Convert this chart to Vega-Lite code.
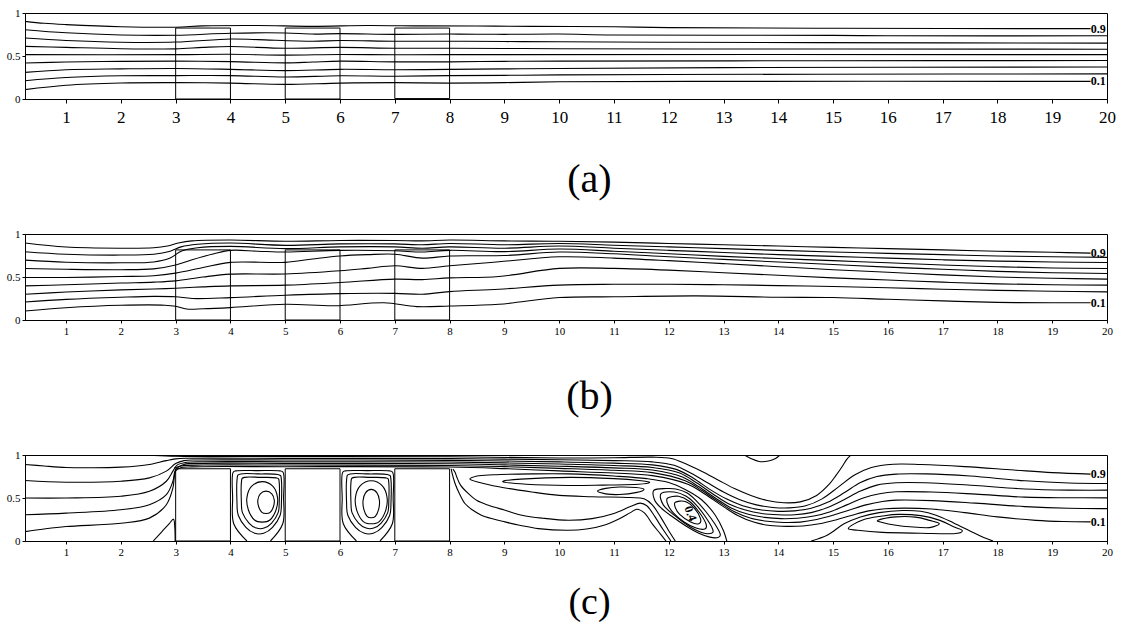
{
"$schema":"https://vega.github.io/schema/vega-lite/v6.json",
"background":"white",
"padding":{"left":5,"top":6,"right":5,"bottom":0},
"spacing":135,
"bounds":"flush",
"config":{"font":"Liberation Serif, Times New Roman, serif","axis":{"domainColor":"black","tickColor":"black","labelColor":"black","titleColor":"black","labelFont":"Liberation Serif, Times New Roman, serif","titleFont":"Liberation Serif, Times New Roman, serif","titleFontWeight":"normal","grid":false},"view":{"stroke":"black","strokeWidth":1}},
"datasets":{
"a":[
{"id":"A1","x":0.25,"y":0.903},{"id":"A1","x":0.6,"y":0.88},{"id":"A1","x":1,"y":0.865},{"id":"A1","x":2,"y":0.84},{"id":"A1","x":3,"y":0.835},{"id":"A1","x":3.5,"y":0.85},{"id":"A1","x":4.5,"y":0.855},{"id":"A1","x":5.5,"y":0.845},{"id":"A1","x":6.5,"y":0.855},{"id":"A1","x":7.5,"y":0.85},{"id":"A1","x":8.5,"y":0.848},{"id":"A1","x":9.5,"y":0.845},{"id":"A1","x":11,"y":0.84},{"id":"A1","x":12,"y":0.83},{"id":"A1","x":15,"y":0.822},{"id":"A1","x":19.7,"y":0.818},
{"id":"A2","x":0.25,"y":0.806},{"id":"A2","x":1,"y":0.77},{"id":"A2","x":2,"y":0.745},{"id":"A2","x":3,"y":0.742},{"id":"A2","x":4,"y":0.765},{"id":"A2","x":5,"y":0.768},{"id":"A2","x":5.5,"y":0.755},{"id":"A2","x":6,"y":0.76},{"id":"A2","x":7,"y":0.752},{"id":"A2","x":8,"y":0.755},{"id":"A2","x":9,"y":0.752},{"id":"A2","x":10,"y":0.755},{"id":"A2","x":11,"y":0.745},{"id":"A2","x":15,"y":0.74},{"id":"A2","x":16,"y":0.735},{"id":"A2","x":20,"y":0.735},
{"id":"A3","x":0.25,"y":0.709},{"id":"A3","x":1,"y":0.68},{"id":"A3","x":2,"y":0.66},{"id":"A3","x":3,"y":0.662},{"id":"A3","x":4,"y":0.698},{"id":"A3","x":4.5,"y":0.69},{"id":"A3","x":5.5,"y":0.672},{"id":"A3","x":6,"y":0.68},{"id":"A3","x":7,"y":0.672},{"id":"A3","x":8,"y":0.672},{"id":"A3","x":9,"y":0.668},{"id":"A3","x":10,"y":0.665},{"id":"A3","x":12,"y":0.66},{"id":"A3","x":14.7,"y":0.655},{"id":"A3","x":20,"y":0.65},
{"id":"A4","x":0.25,"y":0.612},{"id":"A4","x":1,"y":0.6},{"id":"A4","x":2,"y":0.585},{"id":"A4","x":3,"y":0.583},{"id":"A4","x":3.5,"y":0.6},{"id":"A4","x":4,"y":0.61},{"id":"A4","x":5,"y":0.59},{"id":"A4","x":6,"y":0.6},{"id":"A4","x":7,"y":0.59},{"id":"A4","x":8,"y":0.59},{"id":"A4","x":9,"y":0.588},{"id":"A4","x":10,"y":0.585},{"id":"A4","x":12.5,"y":0.582},{"id":"A4","x":18,"y":0.58},{"id":"A4","x":20,"y":0.578},
{"id":"A5","x":0.25,"y":0.516},{"id":"A5","x":3,"y":0.516},{"id":"A5","x":4,"y":0.52},{"id":"A5","x":5,"y":0.51},{"id":"A5","x":6,"y":0.518},{"id":"A5","x":7,"y":0.514},{"id":"A5","x":8,"y":0.516},{"id":"A5","x":20,"y":0.516},
{"id":"A6","x":0.25,"y":0.419},{"id":"A6","x":1,"y":0.43},{"id":"A6","x":2,"y":0.438},{"id":"A6","x":3,"y":0.44},{"id":"A6","x":4,"y":0.435},{"id":"A6","x":5,"y":0.42},{"id":"A6","x":5.5,"y":0.43},{"id":"A6","x":6,"y":0.44},{"id":"A6","x":7,"y":0.432},{"id":"A6","x":8,"y":0.432},{"id":"A6","x":9,"y":0.438},{"id":"A6","x":10,"y":0.44},{"id":"A6","x":14.8,"y":0.445},{"id":"A6","x":20,"y":0.447},
{"id":"A7","x":0.25,"y":0.31},{"id":"A7","x":1,"y":0.34},{"id":"A7","x":2,"y":0.35},{"id":"A7","x":3,"y":0.355},{"id":"A7","x":4,"y":0.345},{"id":"A7","x":5,"y":0.33},{"id":"A7","x":6,"y":0.345},{"id":"A7","x":7,"y":0.34},{"id":"A7","x":8,"y":0.345},{"id":"A7","x":9,"y":0.35},{"id":"A7","x":10,"y":0.355},{"id":"A7","x":13,"y":0.365},{"id":"A7","x":20,"y":0.372},
{"id":"A8","x":0.25,"y":0.213},{"id":"A8","x":1,"y":0.25},{"id":"A8","x":2,"y":0.27},{"id":"A8","x":3,"y":0.272},{"id":"A8","x":4,"y":0.272},{"id":"A8","x":5,"y":0.255},{"id":"A8","x":6,"y":0.27},{"id":"A8","x":7,"y":0.265},{"id":"A8","x":8,"y":0.272},{"id":"A8","x":9,"y":0.275},{"id":"A8","x":10,"y":0.28},{"id":"A8","x":12,"y":0.285},{"id":"A8","x":17.2,"y":0.29},{"id":"A8","x":20,"y":0.292},
{"id":"A9","x":0.25,"y":0.109},{"id":"A9","x":1,"y":0.16},{"id":"A9","x":2,"y":0.186},{"id":"A9","x":3,"y":0.19},{"id":"A9","x":4,"y":0.185},{"id":"A9","x":5,"y":0.17},{"id":"A9","x":6,"y":0.185},{"id":"A9","x":7,"y":0.19},{"id":"A9","x":8,"y":0.185},{"id":"A9","x":9,"y":0.19},{"id":"A9","x":10,"y":0.2},{"id":"A9","x":12.4,"y":0.205},{"id":"A9","x":19.7,"y":0.205}
],
"b":[
{"id":"B1","x":0.25,"y":0.895},{"id":"B1","x":1,"y":0.848},{"id":"B1","x":2,"y":0.835},{"id":"B1","x":2.6,"y":0.84},{"id":"B1","x":2.85,"y":0.86},{"id":"B1","x":3.05,"y":0.895},{"id":"B1","x":3.3,"y":0.92},{"id":"B1","x":4,"y":0.93},{"id":"B1","x":5,"y":0.915},{"id":"B1","x":6,"y":0.925},{"id":"B1","x":7,"y":0.925},{"id":"B1","x":7.5,"y":0.92},{"id":"B1","x":8,"y":0.93},{"id":"B1","x":9,"y":0.92},{"id":"B1","x":10,"y":0.915},{"id":"B1","x":11,"y":0.905},{"id":"B1","x":12,"y":0.89},{"id":"B1","x":13,"y":0.875},{"id":"B1","x":14,"y":0.86},{"id":"B1","x":15,"y":0.845},{"id":"B1","x":16,"y":0.83},{"id":"B1","x":17,"y":0.815},{"id":"B1","x":18,"y":0.8},{"id":"B1","x":19,"y":0.787},{"id":"B1","x":19.7,"y":0.778},
{"id":"B2","x":0.25,"y":0.794},{"id":"B2","x":1,"y":0.765},{"id":"B2","x":2,"y":0.755},{"id":"B2","x":2.6,"y":0.765},{"id":"B2","x":2.9,"y":0.8},{"id":"B2","x":3.1,"y":0.85},{"id":"B2","x":3.4,"y":0.88},{"id":"B2","x":4,"y":0.895},{"id":"B2","x":5,"y":0.868},{"id":"B2","x":6,"y":0.885},{"id":"B2","x":7,"y":0.885},{"id":"B2","x":7.5,"y":0.875},{"id":"B2","x":8,"y":0.89},{"id":"B2","x":9,"y":0.875},{"id":"B2","x":10,"y":0.89},{"id":"B2","x":11,"y":0.87},{"id":"B2","x":12,"y":0.85},{"id":"B2","x":13,"y":0.83},{"id":"B2","x":14,"y":0.81},{"id":"B2","x":15,"y":0.79},{"id":"B2","x":16,"y":0.775},{"id":"B2","x":17,"y":0.76},{"id":"B2","x":18,"y":0.745},{"id":"B2","x":19,"y":0.735},{"id":"B2","x":20,"y":0.728},
{"id":"B3","x":0.25,"y":0.696},{"id":"B3","x":1,"y":0.672},{"id":"B3","x":2,"y":0.665},{"id":"B3","x":2.6,"y":0.675},{"id":"B3","x":2.9,"y":0.72},{"id":"B3","x":3.1,"y":0.8},{"id":"B3","x":3.4,"y":0.84},{"id":"B3","x":4,"y":0.856},{"id":"B3","x":5,"y":0.83},{"id":"B3","x":6,"y":0.85},{"id":"B3","x":7,"y":0.85},{"id":"B3","x":7.5,"y":0.835},{"id":"B3","x":8,"y":0.85},{"id":"B3","x":9,"y":0.835},{"id":"B3","x":10,"y":0.86},{"id":"B3","x":11,"y":0.835},{"id":"B3","x":12,"y":0.81},{"id":"B3","x":13,"y":0.785},{"id":"B3","x":14,"y":0.76},{"id":"B3","x":15,"y":0.74},{"id":"B3","x":16,"y":0.72},{"id":"B3","x":17,"y":0.7},{"id":"B3","x":18,"y":0.685},{"id":"B3","x":19,"y":0.675},{"id":"B3","x":20,"y":0.669},
{"id":"B4","x":0.25,"y":0.599},{"id":"B4","x":1,"y":0.59},{"id":"B4","x":2,"y":0.585},{"id":"B4","x":2.6,"y":0.595},{"id":"B4","x":3,"y":0.64},{"id":"B4","x":3.3,"y":0.7},{"id":"B4","x":3.7,"y":0.77},{"id":"B4","x":4,"y":0.81},{"id":"B4","x":4.5,"y":0.8},{"id":"B4","x":5,"y":0.79},{"id":"B4","x":6,"y":0.81},{"id":"B4","x":7,"y":0.805},{"id":"B4","x":7.5,"y":0.79},{"id":"B4","x":8,"y":0.81},{"id":"B4","x":9,"y":0.795},{"id":"B4","x":10,"y":0.825},{"id":"B4","x":11,"y":0.8},{"id":"B4","x":12,"y":0.77},{"id":"B4","x":13,"y":0.74},{"id":"B4","x":14,"y":0.715},{"id":"B4","x":15,"y":0.69},{"id":"B4","x":16,"y":0.665},{"id":"B4","x":17,"y":0.64},{"id":"B4","x":18,"y":0.62},{"id":"B4","x":19,"y":0.605},{"id":"B4","x":20,"y":0.599},
{"id":"B5","x":0.25,"y":0.494},{"id":"B5","x":1,"y":0.495},{"id":"B5","x":2,"y":0.505},{"id":"B5","x":2.6,"y":0.515},{"id":"B5","x":3,"y":0.545},{"id":"B5","x":3.5,"y":0.61},{"id":"B5","x":4,"y":0.67},{"id":"B5","x":5,"y":0.67},{"id":"B5","x":5.5,"y":0.71},{"id":"B5","x":6,"y":0.745},{"id":"B5","x":6.5,"y":0.76},{"id":"B5","x":7,"y":0.765},{"id":"B5","x":7.5,"y":0.72},{"id":"B5","x":8,"y":0.745},{"id":"B5","x":9,"y":0.75},{"id":"B5","x":10,"y":0.79},{"id":"B5","x":11,"y":0.77},{"id":"B5","x":12,"y":0.735},{"id":"B5","x":13,"y":0.705},{"id":"B5","x":14,"y":0.675},{"id":"B5","x":15,"y":0.645},{"id":"B5","x":16,"y":0.615},{"id":"B5","x":17,"y":0.59},{"id":"B5","x":18,"y":0.565},{"id":"B5","x":19,"y":0.55},{"id":"B5","x":20,"y":0.541},
{"id":"B6","x":0.25,"y":0.397},{"id":"B6","x":1,"y":0.41},{"id":"B6","x":2,"y":0.43},{"id":"B6","x":2.6,"y":0.44},{"id":"B6","x":3,"y":0.455},{"id":"B6","x":3.5,"y":0.5},{"id":"B6","x":4,"y":0.533},{"id":"B6","x":5,"y":0.535},{"id":"B6","x":6,"y":0.572},{"id":"B6","x":6.5,"y":0.6},{"id":"B6","x":7,"y":0.63},{"id":"B6","x":7.5,"y":0.6},{"id":"B6","x":8,"y":0.63},{"id":"B6","x":8.9,"y":0.677},{"id":"B6","x":10,"y":0.735},{"id":"B6","x":11,"y":0.72},{"id":"B6","x":12,"y":0.69},{"id":"B6","x":13,"y":0.655},{"id":"B6","x":14,"y":0.62},{"id":"B6","x":15,"y":0.585},{"id":"B6","x":16,"y":0.555},{"id":"B6","x":17,"y":0.525},{"id":"B6","x":18,"y":0.5},{"id":"B6","x":19,"y":0.485},{"id":"B6","x":20,"y":0.475},
{"id":"B7","x":0.25,"y":0.3},{"id":"B7","x":1,"y":0.325},{"id":"B7","x":2,"y":0.35},{"id":"B7","x":2.6,"y":0.36},{"id":"B7","x":3,"y":0.37},{"id":"B7","x":3.5,"y":0.385},{"id":"B7","x":4,"y":0.397},{"id":"B7","x":5,"y":0.405},{"id":"B7","x":6,"y":0.436},{"id":"B7","x":7,"y":0.475},{"id":"B7","x":7.5,"y":0.47},{"id":"B7","x":8,"y":0.49},{"id":"B7","x":8.9,"y":0.506},{"id":"B7","x":10,"y":0.6},{"id":"B7","x":11,"y":0.6},{"id":"B7","x":12,"y":0.58},{"id":"B7","x":13,"y":0.55},{"id":"B7","x":14,"y":0.52},{"id":"B7","x":15,"y":0.49},{"id":"B7","x":16,"y":0.465},{"id":"B7","x":17,"y":0.44},{"id":"B7","x":18,"y":0.42},{"id":"B7","x":19,"y":0.41},{"id":"B7","x":20,"y":0.405},
{"id":"B8","x":0.25,"y":0.21},{"id":"B8","x":1,"y":0.24},{"id":"B8","x":2,"y":0.265},{"id":"B8","x":2.6,"y":0.275},{"id":"B8","x":3,"y":0.27},{"id":"B8","x":3.3,"y":0.25},{"id":"B8","x":4,"y":0.26},{"id":"B8","x":5,"y":0.288},{"id":"B8","x":6,"y":0.307},{"id":"B8","x":7,"y":0.31},{"id":"B8","x":7.5,"y":0.3},{"id":"B8","x":8,"y":0.33},{"id":"B8","x":8.9,"y":0.358},{"id":"B8","x":10,"y":0.405},{"id":"B8","x":11,"y":0.415},{"id":"B8","x":12,"y":0.416},{"id":"B8","x":13,"y":0.41},{"id":"B8","x":14,"y":0.4},{"id":"B8","x":15,"y":0.389},{"id":"B8","x":16,"y":0.375},{"id":"B8","x":17,"y":0.358},{"id":"B8","x":18,"y":0.345},{"id":"B8","x":19,"y":0.335},{"id":"B8","x":20,"y":0.327},
{"id":"B9","x":0.25,"y":0.105},{"id":"B9","x":1,"y":0.143},{"id":"B9","x":2,"y":0.171},{"id":"B9","x":2.8,"y":0.172},{"id":"B9","x":3,"y":0.16},{"id":"B9","x":3.2,"y":0.128},{"id":"B9","x":3.5,"y":0.13},{"id":"B9","x":4,"y":0.144},{"id":"B9","x":5,"y":0.183},{"id":"B9","x":5.9,"y":0.165},{"id":"B9","x":6.8,"y":0.2},{"id":"B9","x":7.4,"y":0.156},{"id":"B9","x":8,"y":0.163},{"id":"B9","x":8.9,"y":0.183},{"id":"B9","x":10,"y":0.261},{"id":"B9","x":11,"y":0.27},{"id":"B9","x":12.5,"y":0.28},{"id":"B9","x":14,"y":0.265},{"id":"B9","x":15,"y":0.261},{"id":"B9","x":16,"y":0.241},{"id":"B9","x":17,"y":0.222},{"id":"B9","x":18,"y":0.205},{"id":"B9","x":19,"y":0.2},{"id":"B9","x":19.7,"y":0.2}
],
"c":[
{"id":"U1","x":2.6,"y":0.995},{"id":"U1","x":3,"y":0.985},{"id":"U1","x":3.5,"y":0.982},{"id":"U1","x":8,"y":0.98},{"id":"U1","x":10,"y":0.965},{"id":"U1","x":11,"y":0.968},{"id":"U1","x":11.7,"y":0.975},{"id":"U1","x":12.05,"y":0.96},{"id":"U1","x":12.3,"y":0.9},{"id":"U1","x":12.6,"y":0.81},{"id":"U1","x":12.9,"y":0.71},{"id":"U1","x":13.2,"y":0.61},{"id":"U1","x":13.5,"y":0.53},{"id":"U1","x":13.8,"y":0.47},{"id":"U1","x":14.1,"y":0.445},{"id":"U1","x":14.4,"y":0.455},{"id":"U1","x":14.7,"y":0.53},{"id":"U1","x":14.93,"y":0.66},{"id":"U1","x":15.05,"y":0.76},{"id":"U1","x":15.17,"y":0.87},{"id":"U1","x":15.25,"y":0.95},{"id":"U1","x":15.32,"y":0.995},
{"id":"C1","x":0.25,"y":0.89},{"id":"C1","x":0.6,"y":0.872},{"id":"C1","x":1,"y":0.855},{"id":"C1","x":1.5,"y":0.852},{"id":"C1","x":2,"y":0.859},{"id":"C1","x":2.3,"y":0.872},{"id":"C1","x":2.52,"y":0.89},{"id":"C1","x":2.83,"y":0.935},{"id":"C1","x":3,"y":0.955},{"id":"C1","x":3.2,"y":0.962},{"id":"C1","x":5,"y":0.961},{"id":"C1","x":8,"y":0.958},{"id":"C1","x":9,"y":0.952},{"id":"C1","x":10,"y":0.945},{"id":"C1","x":11,"y":0.935},{"id":"C1","x":11.7,"y":0.92},{"id":"C1","x":12.1,"y":0.88},{"id":"C1","x":12.4,"y":0.79},{"id":"C1","x":12.7,"y":0.68},{"id":"C1","x":13,"y":0.57},{"id":"C1","x":13.3,"y":0.48},{"id":"C1","x":13.6,"y":0.42},{"id":"C1","x":13.9,"y":0.39},{"id":"C1","x":14.2,"y":0.385},{"id":"C1","x":14.5,"y":0.41},{"id":"C1","x":14.8,"y":0.49},{"id":"C1","x":15.1,"y":0.63},{"id":"C1","x":15.4,"y":0.77},{"id":"C1","x":15.7,"y":0.855},{"id":"C1","x":16.1,"y":0.893},{"id":"C1","x":16.6,"y":0.89},{"id":"C1","x":17.4,"y":0.865},{"id":"C1","x":18.3,"y":0.825},{"id":"C1","x":19,"y":0.795},{"id":"C1","x":19.7,"y":0.778},
{"id":"C2","x":0.25,"y":0.703},{"id":"C2","x":1,"y":0.684},{"id":"C2","x":2,"y":0.695},{"id":"C2","x":2.52,"y":0.734},{"id":"C2","x":2.83,"y":0.8125},{"id":"C2","x":3,"y":0.9},{"id":"C2","x":3.15,"y":0.935},{"id":"C2","x":3.4,"y":0.942},{"id":"C2","x":5,"y":0.942},{"id":"C2","x":8,"y":0.938},{"id":"C2","x":9,"y":0.93},{"id":"C2","x":10,"y":0.92},{"id":"C2","x":11,"y":0.905},{"id":"C2","x":11.7,"y":0.885},{"id":"C2","x":12.15,"y":0.83},{"id":"C2","x":12.45,"y":0.73},{"id":"C2","x":12.75,"y":0.6},{"id":"C2","x":13.05,"y":0.49},{"id":"C2","x":13.35,"y":0.41},{"id":"C2","x":13.7,"y":0.36},{"id":"C2","x":14,"y":0.345},{"id":"C2","x":14.3,"y":0.35},{"id":"C2","x":14.6,"y":0.38},{"id":"C2","x":14.9,"y":0.45},{"id":"C2","x":15.2,"y":0.56},{"id":"C2","x":15.5,"y":0.68},{"id":"C2","x":15.8,"y":0.75},{"id":"C2","x":16.15,"y":0.778},{"id":"C2","x":16.7,"y":0.78},{"id":"C2","x":17.5,"y":0.755},{"id":"C2","x":18.5,"y":0.7},{"id":"C2","x":19.3,"y":0.675},{"id":"C2","x":20,"y":0.669},
{"id":"C3","x":0.25,"y":0.5},{"id":"C3","x":1,"y":0.5},{"id":"C3","x":2,"y":0.52},{"id":"C3","x":2.52,"y":0.578},{"id":"C3","x":2.83,"y":0.695},{"id":"C3","x":2.95,"y":0.8125},{"id":"C3","x":3.02,"y":0.88},{"id":"C3","x":3.2,"y":0.915},{"id":"C3","x":3.5,"y":0.922},{"id":"C3","x":5,"y":0.922},{"id":"C3","x":8,"y":0.918},{"id":"C3","x":9,"y":0.908},{"id":"C3","x":10,"y":0.895},{"id":"C3","x":11,"y":0.878},{"id":"C3","x":11.7,"y":0.855},{"id":"C3","x":12.2,"y":0.79},{"id":"C3","x":12.5,"y":0.68},{"id":"C3","x":12.8,"y":0.55},{"id":"C3","x":13.1,"y":0.43},{"id":"C3","x":13.4,"y":0.36},{"id":"C3","x":13.7,"y":0.32},{"id":"C3","x":14,"y":0.305},{"id":"C3","x":14.3,"y":0.305},{"id":"C3","x":14.6,"y":0.33},{"id":"C3","x":14.9,"y":0.39},{"id":"C3","x":15.2,"y":0.48},{"id":"C3","x":15.5,"y":0.58},{"id":"C3","x":15.8,"y":0.65},{"id":"C3","x":16.15,"y":0.677},{"id":"C3","x":16.8,"y":0.675},{"id":"C3","x":17.6,"y":0.645},{"id":"C3","x":18.5,"y":0.605},{"id":"C3","x":19.3,"y":0.592},{"id":"C3","x":20,"y":0.591},
{"id":"C4","x":0.25,"y":0.305},{"id":"C4","x":1,"y":0.324},{"id":"C4","x":2,"y":0.363},{"id":"C4","x":2.52,"y":0.422},{"id":"C4","x":2.83,"y":0.539},{"id":"C4","x":2.95,"y":0.695},{"id":"C4","x":3,"y":0.83},{"id":"C4","x":3.15,"y":0.89},{"id":"C4","x":3.5,"y":0.903},{"id":"C4","x":5,"y":0.903},{"id":"C4","x":8,"y":0.898},{"id":"C4","x":9,"y":0.885},{"id":"C4","x":10,"y":0.87},{"id":"C4","x":11,"y":0.85},{"id":"C4","x":11.7,"y":0.825},{"id":"C4","x":12.25,"y":0.745},{"id":"C4","x":12.55,"y":0.63},{"id":"C4","x":12.85,"y":0.5},{"id":"C4","x":13.15,"y":0.38},{"id":"C4","x":13.45,"y":0.31},{"id":"C4","x":13.75,"y":0.275},{"id":"C4","x":14.05,"y":0.26},{"id":"C4","x":14.35,"y":0.265},{"id":"C4","x":14.65,"y":0.29},{"id":"C4","x":14.95,"y":0.34},{"id":"C4","x":15.25,"y":0.42},{"id":"C4","x":15.55,"y":0.5},{"id":"C4","x":15.85,"y":0.55},{"id":"C4","x":16.15,"y":0.572},{"id":"C4","x":16.8,"y":0.57},{"id":"C4","x":17.6,"y":0.545},{"id":"C4","x":18.5,"y":0.51},{"id":"C4","x":19.3,"y":0.503},{"id":"C4","x":20,"y":0.502},
{"id":"X","x":2.97,"y":0.845},{"id":"X","x":3.1,"y":0.872},{"id":"X","x":3.5,"y":0.883},{"id":"X","x":5,"y":0.883},{"id":"X","x":8,"y":0.878},{"id":"X","x":9,"y":0.865},{"id":"X","x":10,"y":0.845},{"id":"X","x":11,"y":0.822},{"id":"X","x":11.7,"y":0.795},{"id":"X","x":12.3,"y":0.7},{"id":"X","x":12.6,"y":0.59},{"id":"X","x":12.9,"y":0.46},{"id":"X","x":13.2,"y":0.34},{"id":"X","x":13.5,"y":0.265},{"id":"X","x":13.8,"y":0.23},{"id":"X","x":14.1,"y":0.215},{"id":"X","x":14.4,"y":0.22},{"id":"X","x":14.7,"y":0.25},{"id":"X","x":15,"y":0.3},{"id":"X","x":15.3,"y":0.36},{"id":"X","x":15.6,"y":0.42},{"id":"X","x":15.9,"y":0.46},{"id":"X","x":16.15,"y":0.475},{"id":"X","x":16.8,"y":0.47},{"id":"X","x":17.6,"y":0.44},{"id":"X","x":18.5,"y":0.4},{"id":"X","x":19.3,"y":0.38},{"id":"X","x":20,"y":0.377},
{"id":"C5","x":0.25,"y":0.109},{"id":"C5","x":0.6,"y":0.14},{"id":"C5","x":1,"y":0.168},{"id":"C5","x":2,"y":0.207},{"id":"C5","x":2.52,"y":0.266},{"id":"C5","x":2.83,"y":0.422},{"id":"C5","x":2.95,"y":0.617},{"id":"C5","x":3,"y":0.813},{"id":"C5","x":3.08,"y":0.85},{"id":"C5","x":3.3,"y":0.862},{"id":"C5","x":5,"y":0.864},{"id":"C5","x":8,"y":0.86},{"id":"C5","x":9,"y":0.842},{"id":"C5","x":10,"y":0.815},{"id":"C5","x":11,"y":0.79},{"id":"C5","x":11.7,"y":0.76},{"id":"C5","x":12.35,"y":0.66},{"id":"C5","x":12.65,"y":0.55},{"id":"C5","x":12.95,"y":0.42},{"id":"C5","x":13.25,"y":0.3},{"id":"C5","x":13.55,"y":0.22},{"id":"C5","x":13.85,"y":0.18},{"id":"C5","x":14.15,"y":0.17},{"id":"C5","x":14.45,"y":0.175},{"id":"C5","x":14.75,"y":0.2},{"id":"C5","x":15.05,"y":0.245},{"id":"C5","x":15.35,"y":0.3},{"id":"C5","x":15.65,"y":0.35},{"id":"C5","x":15.95,"y":0.375},{"id":"C5","x":16.3,"y":0.382},{"id":"C5","x":16.8,"y":0.372},{"id":"C5","x":17.4,"y":0.33},{"id":"C5","x":18,"y":0.28},{"id":"C5","x":18.7,"y":0.24},{"id":"C5","x":19.2,"y":0.226},{"id":"C5","x":19.7,"y":0.222},
{"id":"F","x":2.59,"y":0},{"id":"F","x":2.75,"y":0.11},{"id":"F","x":2.88,"y":0.2},{"id":"F","x":2.96,"y":0.254},{"id":"F","x":2.985,"y":0.15},{"id":"F","x":2.99,"y":0},
{"id":"K1a","x":4.3,"y":0},{"id":"K1a","x":4.06,"y":0.2},{"id":"K1a","x":4.04,"y":0.5},{"id":"K1a","x":4.05,"y":0.8},{"id":"K1a","x":4.1,"y":0.815},{"id":"K1a","x":4.5,"y":0.818},{"id":"K1a","x":4.9,"y":0.815},{"id":"K1a","x":4.96,"y":0.8},{"id":"K1a","x":4.97,"y":0.5},{"id":"K1a","x":4.955,"y":0.2},{"id":"K1a","x":4.73,"y":0},
{"id":"K1b","x":6.3,"y":0},{"id":"K1b","x":6.06,"y":0.2},{"id":"K1b","x":6.04,"y":0.5},{"id":"K1b","x":6.05,"y":0.8},{"id":"K1b","x":6.1,"y":0.815},{"id":"K1b","x":6.5,"y":0.818},{"id":"K1b","x":6.9,"y":0.815},{"id":"K1b","x":6.96,"y":0.8},{"id":"K1b","x":6.97,"y":0.5},{"id":"K1b","x":6.955,"y":0.2},{"id":"K1b","x":6.73,"y":0},
{"id":"R2","x":8.06,"y":0.835},{"id":"R2","x":8.1,"y":0.8},{"id":"R2","x":8.13,"y":0.747},{"id":"R2","x":8.2,"y":0.65},{"id":"R2","x":8.34,"y":0.553},{"id":"R2","x":8.5,"y":0.47},{"id":"R2","x":8.71,"y":0.416},{"id":"R2","x":9,"y":0.36},{"id":"R2","x":9.32,"y":0.3},{"id":"R2","x":9.7,"y":0.265},{"id":"R2","x":10.17,"y":0.241},{"id":"R2","x":10.6,"y":0.26},{"id":"R2","x":11,"y":0.32},{"id":"R2","x":11.3,"y":0.4},{"id":"R2","x":11.48,"y":0.44},{"id":"R2","x":11.6,"y":0.41},{"id":"R2","x":11.75,"y":0.28},{"id":"R2","x":11.9,"y":0.13},{"id":"R2","x":12.04,"y":0},
{"id":"R3","x":8.03,"y":0.84},{"id":"R3","x":8.04,"y":0.805},{"id":"R3","x":8.1,"y":0.669},{"id":"R3","x":8.18,"y":0.55},{"id":"R3","x":8.28,"y":0.436},{"id":"R3","x":8.42,"y":0.36},{"id":"R3","x":8.58,"y":0.3},{"id":"R3","x":8.8,"y":0.255},{"id":"R3","x":9.01,"y":0.222},{"id":"R3","x":9.3,"y":0.18},{"id":"R3","x":9.62,"y":0.144},{"id":"R3","x":10.17,"y":0.125},{"id":"R3","x":10.5,"y":0.14},{"id":"R3","x":10.8,"y":0.18},{"id":"R3","x":11.1,"y":0.26},{"id":"R3","x":11.3,"y":0.33},{"id":"R3","x":11.42,"y":0.37},{"id":"R3","x":11.55,"y":0.33},{"id":"R3","x":11.7,"y":0.2},{"id":"R3","x":11.85,"y":0.08},{"id":"R3","x":11.95,"y":0},
{"id":"R4","x":12.12,"y":0},{"id":"R4","x":12,"y":0.12},{"id":"R4","x":11.85,"y":0.28},{"id":"R4","x":11.7,"y":0.42},{"id":"R4","x":11.55,"y":0.49},{"id":"R4","x":11.3,"y":0.505},{"id":"R4","x":10.6,"y":0.515},{"id":"R4","x":10,"y":0.53},{"id":"R4","x":9.5,"y":0.57},{"id":"R4","x":8.9,"y":0.63},{"id":"R4","x":8.55,"y":0.68},{"id":"R4","x":8.37,"y":0.72},{"id":"R4","x":8.5,"y":0.755},{"id":"R4","x":8.8,"y":0.77},{"id":"R4","x":9.5,"y":0.78},{"id":"R4","x":10.17,"y":0.78},{"id":"R4","x":11,"y":0.755},{"id":"R4","x":11.6,"y":0.725},{"id":"R4","x":12,"y":0.68},{"id":"R4","x":12.3,"y":0.6},{"id":"R4","x":12.6,"y":0.48},{"id":"R4","x":12.85,"y":0.3},{"id":"R4","x":13,"y":0.12},{"id":"R4","x":13.06,"y":0},
{"id":"ARC","x":13.38,"y":1},{"id":"ARC","x":13.5,"y":0.96},{"id":"ARC","x":13.65,"y":0.925},{"id":"ARC","x":13.82,"y":0.93},{"id":"ARC","x":13.95,"y":0.96},{"id":"ARC","x":14.03,"y":1},
{"id":"O1","x":14.6,"y":0},{"id":"O1","x":14.9,"y":0.07},{"id":"O1","x":15.2,"y":0.2},{"id":"O1","x":15.5,"y":0.28},{"id":"O1","x":15.84,"y":0.33},{"id":"O1","x":16.27,"y":0.355},{"id":"O1","x":16.6,"y":0.345},{"id":"O1","x":16.88,"y":0.3},{"id":"O1","x":17.2,"y":0.21},{"id":"O1","x":17.49,"y":0.12},{"id":"O1","x":17.75,"y":0.04},{"id":"O1","x":17.92,"y":0}
],
"cl":[
{"id":"K2a","x":4.185,"y":0.78},{"id":"K2a","x":4.525,"y":0.78},{"id":"K2a","x":4.865,"y":0.773},{"id":"K2a","x":4.93,"y":0.711},{"id":"K2a","x":4.93,"y":0.435},{"id":"K2a","x":4.906,"y":0.297},{"id":"K2a","x":4.768,"y":0.159},{"id":"K2a","x":4.606,"y":0.09},{"id":"K2a","x":4.444,"y":0.09},{"id":"K2a","x":4.282,"y":0.159},{"id":"K2a","x":4.144,"y":0.297},{"id":"K2a","x":4.12,"y":0.435},{"id":"K2a","x":4.12,"y":0.711},
{"id":"K3a","x":4.255,"y":0.74},{"id":"K3a","x":4.545,"y":0.74},{"id":"K3a","x":4.835,"y":0.734},{"id":"K3a","x":4.89,"y":0.681},{"id":"K3a","x":4.89,"y":0.445},{"id":"K3a","x":4.869,"y":0.327},{"id":"K3a","x":4.752,"y":0.209},{"id":"K3a","x":4.614,"y":0.15},{"id":"K3a","x":4.476,"y":0.15},{"id":"K3a","x":4.338,"y":0.209},{"id":"K3a","x":4.221,"y":0.327},{"id":"K3a","x":4.2,"y":0.445},{"id":"K3a","x":4.2,"y":0.681},
{"id":"K4a","x":4.58,"y":0.69},{"id":"K4a","x":4.776,"y":0.634},{"id":"K4a","x":4.86,"y":0.502},{"id":"K4a","x":4.832,"y":0.361},{"id":"K4a","x":4.72,"y":0.244},{"id":"K4a","x":4.58,"y":0.22},{"id":"K4a","x":4.44,"y":0.244},{"id":"K4a","x":4.328,"y":0.361},{"id":"K4a","x":4.3,"y":0.502},{"id":"K4a","x":4.384,"y":0.634},
{"id":"K5a","x":4.65,"y":0.58},{"id":"K5a","x":4.755,"y":0.549},{"id":"K5a","x":4.8,"y":0.476},{"id":"K5a","x":4.785,"y":0.398},{"id":"K5a","x":4.725,"y":0.333},{"id":"K5a","x":4.65,"y":0.32},{"id":"K5a","x":4.575,"y":0.333},{"id":"K5a","x":4.515,"y":0.398},{"id":"K5a","x":4.5,"y":0.476},{"id":"K5a","x":4.545,"y":0.549},
{"id":"K2b","x":6.185,"y":0.78},{"id":"K2b","x":6.525,"y":0.78},{"id":"K2b","x":6.865,"y":0.773},{"id":"K2b","x":6.93,"y":0.711},{"id":"K2b","x":6.93,"y":0.435},{"id":"K2b","x":6.906,"y":0.297},{"id":"K2b","x":6.768,"y":0.159},{"id":"K2b","x":6.606,"y":0.09},{"id":"K2b","x":6.444,"y":0.09},{"id":"K2b","x":6.282,"y":0.159},{"id":"K2b","x":6.144,"y":0.297},{"id":"K2b","x":6.12,"y":0.435},{"id":"K2b","x":6.12,"y":0.711},
{"id":"K3b","x":6.255,"y":0.74},{"id":"K3b","x":6.545,"y":0.74},{"id":"K3b","x":6.835,"y":0.734},{"id":"K3b","x":6.89,"y":0.681},{"id":"K3b","x":6.89,"y":0.445},{"id":"K3b","x":6.869,"y":0.327},{"id":"K3b","x":6.752,"y":0.209},{"id":"K3b","x":6.614,"y":0.15},{"id":"K3b","x":6.476,"y":0.15},{"id":"K3b","x":6.338,"y":0.209},{"id":"K3b","x":6.221,"y":0.327},{"id":"K3b","x":6.2,"y":0.445},{"id":"K3b","x":6.2,"y":0.681},
{"id":"K4b","x":6.57,"y":0.7},{"id":"K4b","x":6.773,"y":0.64},{"id":"K4b","x":6.86,"y":0.5},{"id":"K4b","x":6.831,"y":0.35},{"id":"K4b","x":6.715,"y":0.225},{"id":"K4b","x":6.57,"y":0.2},{"id":"K4b","x":6.425,"y":0.225},{"id":"K4b","x":6.309,"y":0.35},{"id":"K4b","x":6.28,"y":0.5},{"id":"K4b","x":6.367,"y":0.64},
{"id":"K5b","x":6.57,"y":0.6},{"id":"K5b","x":6.675,"y":0.56},{"id":"K5b","x":6.72,"y":0.468},{"id":"K5b","x":6.705,"y":0.369},{"id":"K5b","x":6.645,"y":0.287},{"id":"K5b","x":6.57,"y":0.27},{"id":"K5b","x":6.495,"y":0.287},{"id":"K5b","x":6.435,"y":0.369},{"id":"K5b","x":6.42,"y":0.468},{"id":"K5b","x":6.465,"y":0.56},
{"id":"R5","x":8.97,"y":0.69},{"id":"R5","x":9.3,"y":0.72},{"id":"R5","x":10.2,"y":0.74},{"id":"R5","x":11,"y":0.725},{"id":"R5","x":11.5,"y":0.7},{"id":"R5","x":11.65,"y":0.68},{"id":"R5","x":11.45,"y":0.66},{"id":"R5","x":10.8,"y":0.65},{"id":"R5","x":10.17,"y":0.645},{"id":"R5","x":9.4,"y":0.66},
{"id":"L","x":10.7,"y":0.58},{"id":"L","x":10.85,"y":0.612},{"id":"L","x":11.1,"y":0.628},{"id":"L","x":11.4,"y":0.622},{"id":"L","x":11.55,"y":0.6},{"id":"L","x":11.42,"y":0.565},{"id":"L","x":11.1,"y":0.54},{"id":"L","x":10.85,"y":0.548},
{"id":"V1","x":11.73,"y":0.59},{"id":"V1","x":11.95,"y":0.61},{"id":"V1","x":12.13,"y":0.605},{"id":"V1","x":12.33,"y":0.56},{"id":"V1","x":12.5,"y":0.47},{"id":"V1","x":12.68,"y":0.34},{"id":"V1","x":12.84,"y":0.2},{"id":"V1","x":12.94,"y":0.08},{"id":"V1","x":12.9,"y":0.04},{"id":"V1","x":12.75,"y":0.045},{"id":"V1","x":12.55,"y":0.09},{"id":"V1","x":12.3,"y":0.18},{"id":"V1","x":12.05,"y":0.29},{"id":"V1","x":11.85,"y":0.39},{"id":"V1","x":11.74,"y":0.48},
{"id":"V2","x":11.86,"y":0.55},{"id":"V2","x":12.1,"y":0.57},{"id":"V2","x":12.32,"y":0.52},{"id":"V2","x":12.5,"y":0.42},{"id":"V2","x":12.66,"y":0.29},{"id":"V2","x":12.8,"y":0.14},{"id":"V2","x":12.78,"y":0.09},{"id":"V2","x":12.6,"y":0.1},{"id":"V2","x":12.35,"y":0.18},{"id":"V2","x":12.1,"y":0.3},{"id":"V2","x":11.9,"y":0.42},
{"id":"V3","x":11.98,"y":0.5},{"id":"V3","x":12.18,"y":0.52},{"id":"V3","x":12.38,"y":0.46},{"id":"V3","x":12.55,"y":0.34},{"id":"V3","x":12.68,"y":0.2},{"id":"V3","x":12.66,"y":0.14},{"id":"V3","x":12.5,"y":0.15},{"id":"V3","x":12.28,"y":0.22},{"id":"V3","x":12.08,"y":0.33},{"id":"V3","x":11.98,"y":0.43},
{"id":"V4","x":12.12,"y":0.45},{"id":"V4","x":12.3,"y":0.46},{"id":"V4","x":12.47,"y":0.38},{"id":"V4","x":12.58,"y":0.26},{"id":"V4","x":12.55,"y":0.2},{"id":"V4","x":12.4,"y":0.22},{"id":"V4","x":12.2,"y":0.31},{"id":"V4","x":12.12,"y":0.39},
{"id":"O2","x":15.28,"y":0.15},{"id":"O2","x":15.54,"y":0.245},{"id":"O2","x":15.9,"y":0.29},{"id":"O2","x":16.19,"y":0.31},{"id":"O2","x":16.6,"y":0.295},{"id":"O2","x":16.95,"y":0.24},{"id":"O2","x":17.2,"y":0.165},{"id":"O2","x":17.36,"y":0.12},{"id":"O2","x":17.2,"y":0.085},{"id":"O2","x":16.6,"y":0.09},{"id":"O2","x":15.9,"y":0.1},{"id":"O2","x":15.45,"y":0.125},
{"id":"O3","x":15.82,"y":0.241},{"id":"O3","x":16.15,"y":0.28},{"id":"O3","x":16.5,"y":0.278},{"id":"O3","x":16.76,"y":0.24},{"id":"O3","x":16.94,"y":0.202},{"id":"O3","x":16.76,"y":0.156},{"id":"O3","x":16.4,"y":0.165},{"id":"O3","x":16.15,"y":0.183},{"id":"O3","x":15.9,"y":0.215}
],
"blkA":[{"x0":3,"x1":4,"y0":0,"y1":0.825},{"x0":5,"x1":6,"y0":0,"y1":0.825},{"x0":7,"x1":8,"y0":0.005,"y1":0.825}],
"blkB":[{"x0":3,"x1":4,"y0":0,"y1":0.815},{"x0":5,"x1":6,"y0":0,"y1":0.815},{"x0":7,"x1":8,"y0":0,"y1":0.815}],
"blkC":[{"x0":3,"x1":4,"y0":0,"y1":0.84},{"x0":5,"x1":6,"y0":0,"y1":0.84},{"x0":7,"x1":8,"y0":0,"y1":0.84}],
"labA":[{"x":19.84,"y":0.818,"t":"0.9"},{"x":19.84,"y":0.205,"t":"0.1"}],
"labB":[{"x":19.84,"y":0.778,"t":"0.9"},{"x":19.84,"y":0.2,"t":"0.1"}],
"labC":[{"x":19.84,"y":0.778,"t":"0.9"},{"x":19.84,"y":0.222,"t":"0.1"}],
"labV":[{"x":12.4,"y":0.32,"t":"0.4"}]
},
"vconcat":[
{"width":1082,"height":86,
 "layer":[
  {"data":{"name":"a"},"mark":{"type":"line","color":"black","strokeWidth":1.1,"clip":true,"interpolate":"catmull-rom"},
   "encoding":{
    "x":{"field":"x","type":"quantitative","title":"(a)","scale":{"domain":[0.25,20],"nice":false,"zero":false},
         "axis":{"values":[1,2,3,4,5,6,7,8,9,10,11,12,13,14,15,16,17,18,19,20],"format":"d","tickSize":4,"labelPadding":6,"labelFontSize":17,"labelFlush":false,"titleFontSize":40,"titleX":564,"titleY":92,"titleBaseline":"alphabetic","titleAlign":"center"}},
    "y":{"field":"y","type":"quantitative","title":null,"scale":{"domain":[0,1],"nice":false,"zero":false},
         "axis":{"values":[0,0.5,1],"format":"~g","tickSize":3,"labelPadding":2,"labelFontSize":11}},
    "detail":{"field":"id","type":"nominal"},
    "order":{"value":null}}},
  {"data":{"name":"blkA"},"mark":{"type":"rect","fillOpacity":0,"stroke":"black","strokeWidth":1},
   "encoding":{"x":{"field":"x0","type":"quantitative","title":"(a)"},"x2":{"field":"x1"},"y":{"field":"y0","type":"quantitative","title":null},"y2":{"field":"y1"}}},
  {"data":{"name":"labA"},"mark":{"type":"text","fontWeight":"bold","fontSize":12,"color":"black"},
   "encoding":{"x":{"field":"x","type":"quantitative","title":"(a)"},"y":{"field":"y","type":"quantitative","title":null},"text":{"field":"t"}}}
 ]},
{"width":1082,"height":86,
 "layer":[
  {"data":{"name":"b"},"mark":{"type":"line","color":"black","strokeWidth":1.1,"clip":true,"interpolate":"catmull-rom"},
   "encoding":{
    "x":{"field":"x","type":"quantitative","title":"(b)","scale":{"domain":[0.25,20],"nice":false,"zero":false},
         "axis":{"values":[1,2,3,4,5,6,7,8,9,10,11,12,13,14,15,16,17,18,19,20],"format":"d","tickSize":3,"labelPadding":2,"labelFontSize":11,"labelFlush":false,"titleFontSize":40,"titleX":564,"titleY":88,"titleBaseline":"alphabetic","titleAlign":"center"}},
    "y":{"field":"y","type":"quantitative","title":null,"scale":{"domain":[0,1],"nice":false,"zero":false},
         "axis":{"values":[0,0.5,1],"format":"~g","tickSize":3,"labelPadding":2,"labelFontSize":11}},
    "detail":{"field":"id","type":"nominal"},
    "order":{"value":null}}},
  {"data":{"name":"blkB"},"mark":{"type":"rect","fillOpacity":0,"stroke":"black","strokeWidth":1},
   "encoding":{"x":{"field":"x0","type":"quantitative","title":"(b)"},"x2":{"field":"x1"},"y":{"field":"y0","type":"quantitative","title":null},"y2":{"field":"y1"}}},
  {"data":{"name":"labB"},"mark":{"type":"text","fontWeight":"bold","fontSize":12,"color":"black"},
   "encoding":{"x":{"field":"x","type":"quantitative","title":"(b)"},"y":{"field":"y","type":"quantitative","title":null},"text":{"field":"t"}}}
 ]},
{"width":1082,"height":86,
 "layer":[
  {"data":{"name":"c"},"mark":{"type":"line","color":"black","strokeWidth":1.1,"clip":true,"interpolate":"catmull-rom"},
   "encoding":{
    "x":{"field":"x","type":"quantitative","title":"(c)","scale":{"domain":[0.25,20],"nice":false,"zero":false},
         "axis":{"values":[1,2,3,4,5,6,7,8,9,10,11,12,13,14,15,16,17,18,19,20],"format":"d","tickSize":3,"labelPadding":2,"labelFontSize":11,"labelFlush":false,"titleFontSize":38,"titleX":564,"titleY":72,"titleBaseline":"alphabetic","titleAlign":"center"}},
    "y":{"field":"y","type":"quantitative","title":null,"scale":{"domain":[0,1],"nice":false,"zero":false},
         "axis":{"values":[0,0.5,1],"format":"~g","tickSize":3,"labelPadding":2,"labelFontSize":11}},
    "detail":{"field":"id","type":"nominal"},
    "order":{"value":null}}},
  {"data":{"name":"cl"},"mark":{"type":"line","color":"black","strokeWidth":1.1,"clip":true,"interpolate":"cardinal-closed"},
   "encoding":{"x":{"field":"x","type":"quantitative","title":"(c)"},"y":{"field":"y","type":"quantitative","title":null},"detail":{"field":"id","type":"nominal"},"order":{"value":null}}},
  {"data":{"name":"blkC"},"mark":{"type":"rect","fillOpacity":0,"stroke":"black","strokeWidth":1},
   "encoding":{"x":{"field":"x0","type":"quantitative","title":"(c)"},"x2":{"field":"x1"},"y":{"field":"y0","type":"quantitative","title":null},"y2":{"field":"y1"}}},
  {"data":{"name":"labC"},"mark":{"type":"text","fontWeight":"bold","fontSize":12,"color":"black"},
   "encoding":{"x":{"field":"x","type":"quantitative","title":"(c)"},"y":{"field":"y","type":"quantitative","title":null},"text":{"field":"t"}}},
  {"data":{"name":"labV"},"mark":{"type":"text","fontWeight":"bold","fontSize":12,"color":"black","angle":70},
   "encoding":{"x":{"field":"x","type":"quantitative","title":"(c)"},"y":{"field":"y","type":"quantitative","title":null},"text":{"field":"t"}}}
 ]}
]
}
